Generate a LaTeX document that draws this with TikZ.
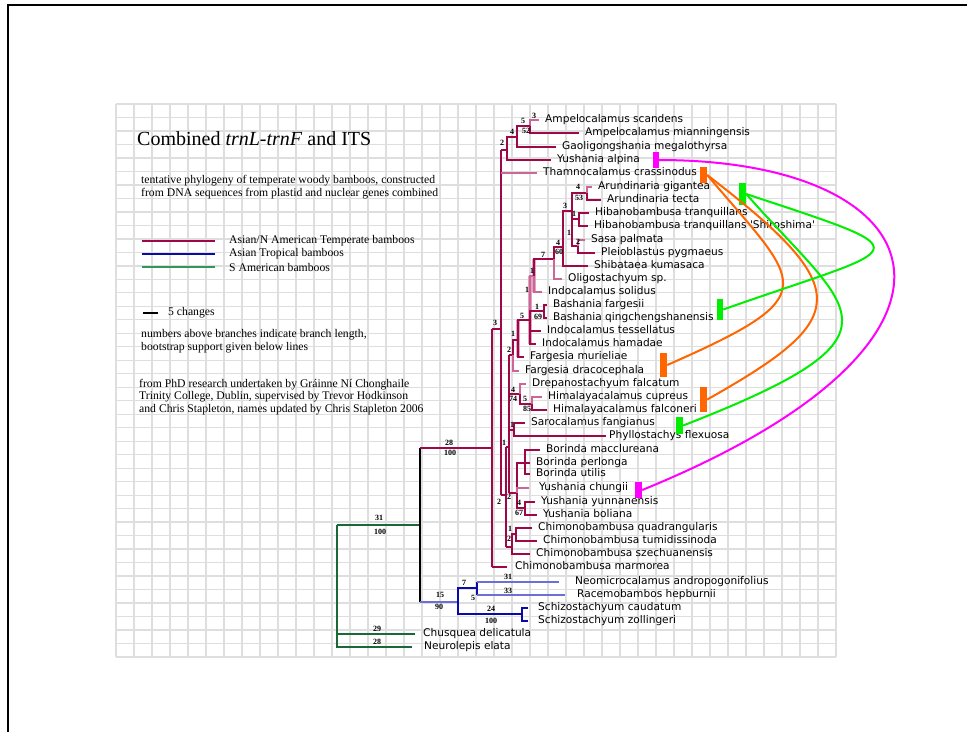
\documentclass[tikz,border=0pt]{standalone}
\usepackage{fontspec}
\setmainfont{Liberation Serif}
\newfontfamily\taxonfont{DejaVu Sans}
\usetikzlibrary{positioning, calc}

\definecolor{tempred}{RGB}{158,8,72}
\definecolor{templight}{RGB}{204,102,150}
\definecolor{tropdark}{RGB}{10,10,170}
\definecolor{troplight}{RGB}{110,110,215}
\definecolor{sagreen}{RGB}{25,105,55}
\definecolor{leggreen}{RGB}{50,150,90}
\definecolor{gridgrey}{RGB}{222,222,222}
\definecolor{markmagenta}{RGB}{255,0,255}
\definecolor{markorange}{RGB}{255,102,0}
\definecolor{markgreen}{RGB}{0,238,0}

\begin{document}
\begin{tikzpicture}[
    x=1pt, y=-1pt,
    taxon/.style={
      anchor=west, inner ysep=0pt, inner xsep=#1,
      font=\taxonfont\fontsize{10.6}{12}\selectfont,
      text height=7.6pt, text depth=2.2pt
    },
    taxon/.default=6pt,
    blen/.style={inner sep=0pt, font=\fontsize{8}{8}\selectfont\bfseries},
    br/.style={draw=tempred, line width=1.4pt},
    brmid/.style={draw=tempred, line width=2pt},
    brthick/.style={draw=tempred, line width=2.7pt},
    brlight/.style={draw=templight, line width=1.4pt},
    lightbar/.style={draw=templight!60, line width=4.5pt},
    tropthin/.style={draw=troplight, line width=1.4pt},
    tropthick/.style={draw=tropdark, line width=2.4pt},
    outgroup/.style={draw=sagreen, line width=1.4pt},
    markbar/.style={fill=#1, draw=none, inner sep=0pt, minimum width=7pt},
    link/.style={draw=#1, line width=2pt},
    legtext/.style={anchor=west, inner sep=0pt, font=\fontsize{11.7}{12.5}\selectfont},
    note/.style={anchor=west, inner sep=0pt, align=left, font=\fontsize{11.7}{12.5}\selectfont},
    gridline/.style={draw=gridgrey, line width=1.3pt},
  ]
    \useasboundingbox (0,0) rectangle (967,732);
    \fill[white] (0,0) rectangle (967,732);

    % slide frame
    \coordinate (frame_bl) at (8,732);
    \coordinate (frame_tl) at (8,5);
    \coordinate (frame_tr) at (967,5);
    \draw[line width=1.2pt] (frame_bl) -- (frame_tl) -- (frame_tr);

    % grid
    \foreach \i in {0,...,40} \draw[gridline] (116+18*\i,104) -- (116+18*\i,657);
    \foreach \j in {0,...,41} \draw[gridline] (116,104+13.488*\j) -- (836,104+13.488*\j);

    % title and notes
    \node[legtext, font=\fontsize{20}{24}\selectfont] (title) at (137,139) {Combined \textit{trnL-trnF} and ITS};
    \node[note] (desc_note) at (141,187) {tentative phylogeny of temperate woody bamboos, constructed\\from DNA sequences from plastid and nuclear genes combined};
    \node[legtext] (leg_temp) at (229,241) {Asian/N American Temperate bamboos};
    \node[legtext] (leg_trop) at (229,254) {Asian Tropical bamboos};
    \node[legtext] (leg_sa) at (229,267) {S American bamboos};
    \draw[tempred, line width=1.2pt] ([xshift=-87pt]leg_temp.west) -- ([xshift=-14pt]leg_temp.west);
    \draw[tropdark, line width=1.2pt] ([xshift=-87pt]leg_trop.west) -- ([xshift=-14pt]leg_trop.west);
    \draw[leggreen, line width=1.2pt] ([xshift=-87pt]leg_sa.west) -- ([xshift=-14pt]leg_sa.west);
    \node[legtext] (scale_text) at (168,313) {5 changes};
    \draw[black, line width=2.4pt] ([xshift=-25pt]scale_text.west) -- ([xshift=-10pt]scale_text.west);
    \node[note] (branch_note) at (141,341) {numbers above branches indicate branch length,\\bootstrap support given below lines};
    \node[note] (credit_note) at (139,397) {from PhD research undertaken by Gráinne Ní Chonghaile\\Trinity College, Dublin, supervised by Trevor Hodkinson\\and Chris Stapleton, names updated by Chris Stapleton 2006};

    % taxa
    \node[taxon] (amp_sca) at (539,120) {Ampelocalamus scandens};
    \node[taxon] (amp_mia) at (579,133) {Ampelocalamus mianningensis};
    \node[taxon] (gao_meg) at (556,147) {Gaoligongshania megalothyrsa};
    \node[taxon] (yus_alp) at (551,160) {Yushania alpina};
    \node[taxon] (tha_cra) at (537,173) {Thamnocalamus crassinodus};
    \node[taxon] (aru_gig) at (592,187) {Arundinaria gigantea};
    \node[taxon] (aru_tec) at (601,200) {Arundinaria tecta};
    \node[taxon] (hib_tra) at (589,213) {Hibanobambusa tranquillans};
    \node[taxon] (hib_shi) at (588,226) {Hibanobambusa tranquillans \textquotesingle Shiroshima\textquotesingle};
    \node[taxon] (sas_pal) at (585,240) {Sasa palmata};
    \node[taxon] (ple_pyg) at (595,253) {Pleioblastus pygmaeus};
    \node[taxon] (shi_kum) at (588,266) {Shibataea kumasaca};
    \node[taxon] (oli_sp) at (562,279) {Oligostachyum sp.};
    \node[taxon] (ind_sol) at (542,292) {Indocalamus solidus};
    \node[taxon] (bas_far) at (547,305) {Bashania fargesii};
    \node[taxon] (bas_qin) at (547,318) {Bashania qingchengshanensis};
    \node[taxon] (ind_tes) at (541,331) {Indocalamus tessellatus};
    \node[taxon] (ind_ham) at (536,344) {Indocalamus hamadae};
    \node[taxon] (far_mur) at (524,357) {Fargesia murieliae};
    \node[taxon] (far_dra) at (519,371) {Fargesia dracocephala};
    \node[taxon] (dre_fal) at (526,384) {Drepanostachyum falcatum};
    \node[taxon] (him_cup) at (542,397) {Himalayacalamus cupreus};
    \node[taxon] (him_fal) at (547,410) {Himalayacalamus falconeri};
    \node[taxon] (sar_fan) at (525,423) {Sarocalamus fangianus};
    \node[taxon=3pt] (phy_fle) at (606,436) {Phyllostachys flexuosa};
    \node[taxon] (bor_mac) at (540,450) {Borinda macclureana};
    \node[taxon] (bor_per) at (530,463) {Borinda perlonga};
    \node[taxon] (bor_uti) at (530,474) {Borinda utilis};
    \node[taxon=10pt] (yus_chu) at (529,488) {Yushania chungii};
    \node[taxon] (yus_yun) at (535,502) {Yushania yunnanensis};
    \node[taxon] (yus_bol) at (537,515) {Yushania boliana};
    \node[taxon] (chi_qua) at (532,528) {Chimonobambusa quadrangularis};
    \node[taxon] (chi_tum) at (537,541) {Chimonobambusa tumidissinoda};
    \node[taxon] (chi_sze) at (530,554) {Chimonobambusa szechuanensis};
    \node[taxon=8pt] (chi_mar) at (507,567) {Chimonobambusa marmorea};
    \node[taxon=16pt] (neo_and) at (559,582) {Neomicrocalamus andropogonifolius};
    \node[taxon=12pt] (rac_hep) at (565,595) {Racemobambos hepburnii};
    \node[taxon=10pt] (sch_cau) at (528,608) {Schizostachyum caudatum};
    \node[taxon=10pt] (sch_zol) at (528,621) {Schizostachyum zollingeri};
    \node[taxon=8pt] (chu_del) at (415,634) {Chusquea delicatula};
    \node[taxon=12pt] (neu_ela) at (412,647) {Neurolepis elata};

    % internal nodes
    \coordinate (root) at (337,525);
    \coordinate (bambusoid) at (420,525);
    \coordinate (trop) at (458,602);
    \coordinate (trop_neo) at (477,588);
    \coordinate (trop_sch) at (522,614);
    \coordinate (temp) at (492,448);
    \coordinate (temp_core) at (501,329);
    \coordinate (amp_a) at (530,126);
    \coordinate (amp_b) at (517,137);
    \coordinate (amp_c) at (507,150);
    \coordinate (clade_l) at (506,495);
    \coordinate (clade_m) at (509,447);
    \coordinate (far_node) at (513,355);
    \coordinate (ind_node) at (518,340);
    \coordinate (ind_b) at (530,320);
    \coordinate (oli_node) at (534,276);
    \coordinate (bas_node) at (544,311);
    \coordinate (n554) at (554,259);
    \coordinate (n563) at (563,247);
    \coordinate (n572) at (572,211);
    \coordinate (aru_node) at (587,193);
    \coordinate (hib_node) at (579,219);
    \coordinate (sas_node) at (578,246);
    \coordinate (dre_node) at (520,394);
    \coordinate (him_node) at (532,404);
    \coordinate (sar_node) at (514,430);
    \coordinate (bor_yus) at (517,493);
    \coordinate (bor_node) at (525,463);
    \coordinate (yus_node) at (525,508);
    \coordinate (chi_node) at (512,547);
    \coordinate (chi_b) at (516,534);

    % outgroup and tropical bamboos
    \draw[outgroup] (root) -- (bambusoid);
    \draw[outgroup] (root) |- (chu_del);
    \draw[outgroup] (root) |- (neu_ela);
    \draw[black, line width=2.6pt] (bambusoid |- temp) -- (bambusoid |- trop);
    \draw[tropthin] (bambusoid |- trop) -- (trop);
    \draw[tropthick] (trop) |- (trop_neo);
    \draw[tropthick] (trop) |- (trop_sch);
    \draw[tropthick] (trop_neo |- neo_and) -- (trop_neo |- rac_hep);
    \draw[tropthin] (trop_neo |- neo_and) -- (neo_and);
    \draw[tropthin] (trop_neo |- rac_hep) -- (rac_hep);
    \draw[tropthick] (trop_sch) |- (sch_cau);
    \draw[tropthick] (trop_sch) |- (sch_zol);

    % temperate backbone
    \draw[brmid] (bambusoid |- temp) -- (temp);
    \draw[brmid] (temp |- temp_core) -- (temp |- chi_mar);
    \draw[brthick] (temp |- temp_core) -- (temp_core);
    \draw[brthick] (temp |- chi_mar) -- (chi_mar);
    \draw[brthick] (temp_core |- amp_c) -- (temp_core |- clade_l);
    \draw[brthick] (temp_core |- amp_c) -- (amp_c);
    \draw[brlight] (temp_core |- tha_cra) -- (tha_cra);
    \draw[brthick] (temp_core |- clade_l) -- (clade_l);

    % Ampelocalamus group
    \draw[brlight] (amp_a) |- (amp_sca);
    \draw[br] (amp_a) |- (amp_mia);
    \draw[br] (amp_b) |- (amp_a);
    \draw[brthick] (amp_b) |- (gao_meg);
    \draw[br] (amp_c) |- (amp_b);
    \draw[brthick] (amp_c) |- (yus_alp);

    % shaded verticals
    \draw[lightbar] (oli_node |- n554) -- (oli_node |- ind_sol);
    \draw[lightbar] (ind_b |- oli_node) -- (ind_b |- ind_ham);
    \draw[lightbar] (ind_node |- ind_b) -- (ind_node |- far_mur);

    % main temperate clade
    \draw[brthick] (clade_l |- clade_m) -- (clade_l |- chi_node);
    \draw[br] (clade_l |- clade_m) -- (clade_m);
    \draw[brthick] (clade_l |- chi_node) -- (chi_node);
    \draw[br] (clade_m |- far_node) -- (clade_m |- bor_yus);
    \draw[br] (clade_m |- far_node) -- (far_node);
    \draw[br] (clade_m |- dre_node) -- (dre_node);
    \draw[br] (clade_m |- sar_node) -- (sar_node);
    \draw[br] (clade_m |- bor_yus) -- (bor_yus);
    \draw[br] (far_node) |- (ind_node);
    \draw[brlight] (far_node) |- (far_dra);
    \draw[br] (ind_node) |- (ind_b);
    \draw[brthick] (ind_node) |- (far_mur);
    \draw[brlight] (ind_b) |- (oli_node);
    \draw[br] (ind_b) |- (bas_node);
    \draw[brthick] (ind_b) |- (ind_tes);
    \draw[br] (ind_b) |- (ind_ham);
    \draw[br] (oli_node) |- (n554);
    \draw[brlight] (oli_node) |- (ind_sol);
    \draw[brthick] (bas_node) |- (bas_far);
    \draw[br] (bas_node) |- (bas_qin);
    \draw[br] (n554) |- (n563);
    \draw[brlight] (n554) |- (oli_sp);
    \draw[brthick] (n563) |- (n572);
    \draw[brthick] (n563) |- (shi_kum);
    \draw[brthick] (n572) |- (aru_node);
    \draw[br] (n572) |- (hib_node);
    \draw[brthick] (n572) |- (sas_node);
    \draw[brlight] (aru_node) |- (aru_gig);
    \draw[brthick] (aru_node) |- (aru_tec);
    \draw[brthick] (hib_node) |- (hib_tra);
    \draw[br] (hib_node) |- (hib_shi);
    \draw[brlight] (sas_node) |- (sas_pal);
    \draw[brthick] (sas_node) |- (ple_pyg);
    \draw[brlight] (dre_node) |- (dre_fal);
    \draw[br] (dre_node) |- (him_node);
    \draw[brlight] (him_node) |- (him_cup);
    \draw[brthick] (him_node) |- (him_fal);
    \draw[brthick] (sar_node) |- (sar_fan);
    \draw[br] (sar_node) |- (phy_fle);
    \draw[br] (bor_yus) |- (bor_node);
    \draw[brlight] (bor_yus) |- (yus_chu);
    \draw[br] (bor_yus) |- (yus_node);
    \draw[brthick] (bor_node) |- (bor_mac);
    \draw[br] (bor_node) |- (bor_per);
    \draw[brthick] (bor_node) |- (bor_uti);
    \draw[brthick] (yus_node) |- (yus_yun);
    \draw[brthick] (yus_node) |- (yus_bol);
    \draw[br] (chi_node) |- (chi_b);
    \draw[brthick] (chi_node) |- (chi_sze);
    \draw[brthick] (chi_b) |- (chi_qua);
    \draw[br] (chi_b) |- (chi_tum);

    % branch lengths and bootstrap values
    \node[blen] (bl1) at (534,116) {3};
    \node[blen] (bl2) at (523,121) {5};
    \node[blen] (bl3) at (526,131) {52};
    \node[blen] (bl4) at (512,132) {4};
    \node[blen] (bl5) at (502,143) {2};
    \node[blen] (bl6) at (578,187) {4};
    \node[blen] (bl7) at (579,198) {53};
    \node[blen] (bl8) at (565,206) {3};
    \node[blen] (bl9) at (574,214) {1};
    \node[blen] (bl10) at (569,233) {1};
    \node[blen] (bl11) at (578,242) {2};
    \node[blen] (bl12) at (558,243) {4};
    \node[blen] (bl13) at (559,252) {60};
    \node[blen] (bl14) at (543,255) {7};
    \node[blen] (bl15) at (532,271) {1};
    \node[blen] (bl16) at (527,290) {1};
    \node[blen] (bl17) at (537,307) {1};
    \node[blen] (bl18) at (538,317) {69};
    \node[blen] (bl19) at (522,316) {5};
    \node[blen] (bl20) at (513,334) {1};
    \node[blen] (bl21) at (509,350) {2};
    \node[blen] (bl22) at (513,390) {4};
    \node[blen] (bl23) at (513,399) {74};
    \node[blen] (bl24) at (525,399) {5};
    \node[blen] (bl25) at (527,409) {85};
    \node[blen] (bl26) at (512,425) {1};
    \node[blen] (bl27) at (504,443) {1};
    \node[blen] (bl28) at (509,497) {2};
    \node[blen] (bl29) at (499,502) {2};
    \node[blen] (bl30) at (519,503) {4};
    \node[blen] (bl31) at (519,513) {67};
    \node[blen] (bl32) at (510,529) {1};
    \node[blen] (bl33) at (509,539) {2};
    \node[blen] (bl34) at (495,323) {3};
    \node[blen] (bl35) at (449,443) {28};
    \node[blen] (bl36) at (450,453) {100};
    \node[blen] (bl37) at (379,518) {31};
    \node[blen] (bl38) at (380,532) {100};
    \node[blen] (bl39) at (440,595) {15};
    \node[blen] (bl40) at (439,607) {90};
    \node[blen] (bl41) at (464,583) {7};
    \node[blen] (bl42) at (473,598) {5};
    \node[blen] (bl43) at (508,577) {31};
    \node[blen] (bl44) at (508,591) {33};
    \node[blen] (bl45) at (491,609) {24};
    \node[blen] (bl46) at (491,621) {100};
    \node[blen] (bl47) at (377,629) {29};
    \node[blen] (bl48) at (377,642) {28};

    % coloured markers
    \node[markbar=markmagenta, minimum width=6pt, minimum height=16pt] (mag_alp) at (655.5,160) {};
    \node[markbar=markmagenta, minimum height=16pt] (mag_chu) at (638.5,490) {};
    \node[markbar=markorange, minimum height=16pt] (org_tha) at (703.5,175) {};
    \node[markbar=markorange, minimum height=24pt] (org_far) at (663.5,365) {};
    \node[markbar=markorange, minimum height=25pt] (org_him) at (703.5,399.5) {};
    \node[markbar=markgreen, minimum height=22pt] (grn_aru) at (742.5,194) {};
    \node[markbar=markgreen, minimum width=6pt, minimum height=21pt] (grn_bas) at (720,309.5) {};
    \node[markbar=markgreen, minimum height=17pt] (grn_sar) at (679.5,425.5) {};

    % links
    \draw[link=markmagenta] (mag_alp.east) .. controls (940,160) and (1010,340) .. (mag_chu.east);
    \draw[link=markorange] (org_tha.east) .. controls (801,286) and (829,294) .. (org_far.east);
    \draw[link=markorange] (org_tha.east) .. controls (857,290) and (850,319) .. (org_him.east);
    \draw[link=markgreen] (grn_aru.east) .. controls (930,255) and (909,244) .. (grn_bas.east);
    \draw[link=markgreen] (grn_aru.east) .. controls (851,313) and (918,334) .. (grn_sar.east);
  \end{tikzpicture}
\end{document}
